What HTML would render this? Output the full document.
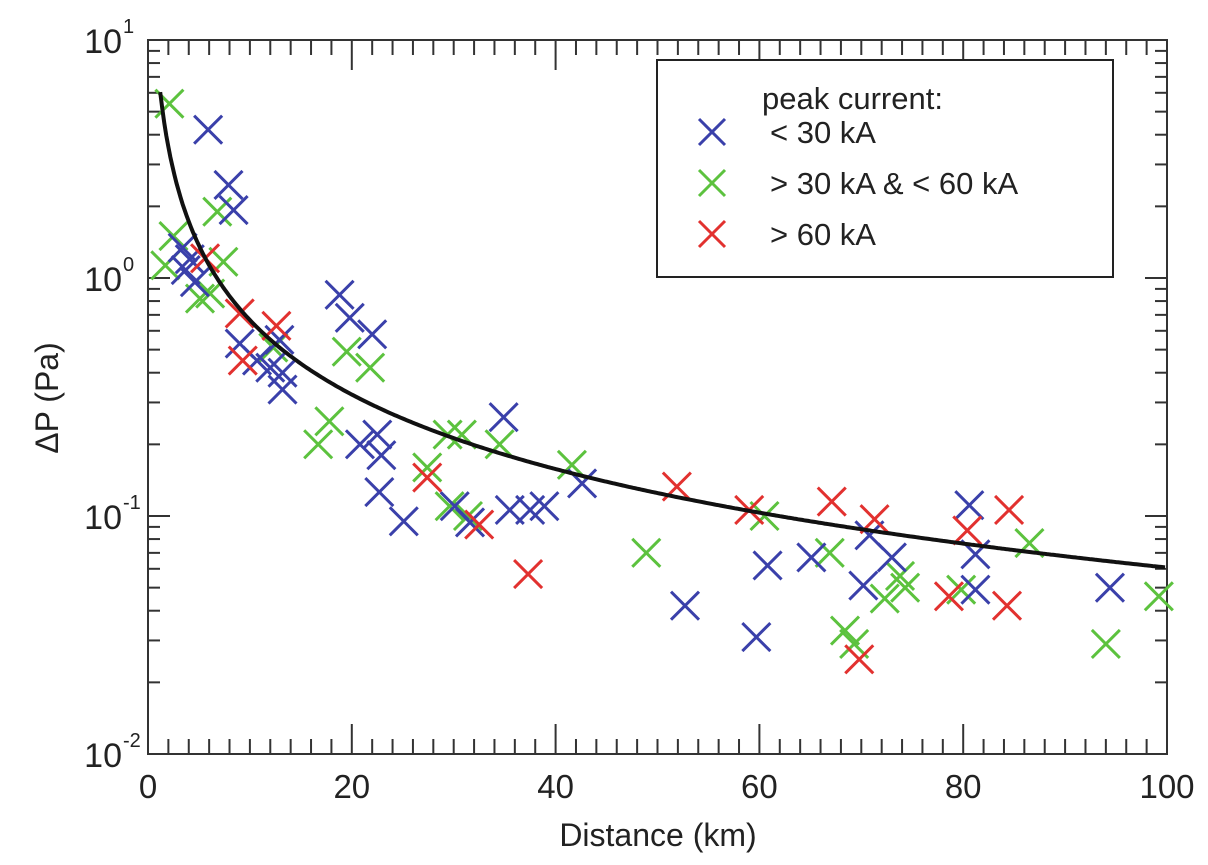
<!DOCTYPE html>
<html><head><meta charset="utf-8"><style>
body{margin:0;background:#fff}
svg{display:block}
text{font-family:"Liberation Sans",sans-serif;fill:#222}
</style></head><body>
<svg id="chart" width="1208" height="865" viewBox="0 0 1208 865"></svg>
<script>
const xTicks=[0,20,40,60,80,100];
const yExps=[-2,-1,0,1];
const blueX=[5.9,7.9,8.4,3.4,4.1,3.7,4.6,9.0,10.7,12.9,13.2,13.2,12.0,18.8,19.8,22,20.8,22.5,22.9,22.7,25.1,30.1,31.6,34.9,35.5,37.5,38.9,42.6,52.7,59.7,60.8,65.1,70.8,70.2,73,80.6,81.2,81.2,94.4];
const blueY=[4.2,2.46,1.93,1.34,1.2,1.08,0.96,0.53,0.45,0.55,0.40,0.34,0.42,0.85,0.68,0.58,0.2,0.22,0.18,0.126,0.095,0.11,0.094,0.26,0.106,0.106,0.11,0.137,0.042,0.031,0.062,0.067,0.083,0.051,0.067,0.111,0.069,0.049,0.05];
const greenX=[2.1,6.8,2.5,1.7,7.4,5.1,6.1,12.3,19.5,21.8,17.8,16.7,29.4,30.8,34.5,27.4,29.6,31.4,41.6,48.9,60.5,66.9,68.4,69.3,72.3,73.8,74.3,79.8,86.5,94,99.2];
const greenY=[5.4,1.9,1.5,1.13,1.17,0.82,0.86,0.51,0.49,0.42,0.25,0.2,0.22,0.22,0.2,0.16,0.11,0.1,0.164,0.07,0.1,0.07,0.033,0.029,0.045,0.056,0.05,0.049,0.077,0.029,0.046];
const redX=[5.6,9.0,12.6,9.3,27.4,32.5,37.3,51.9,59,67.1,71.3,69.8,78.6,80.4,84.3,84.5];
const redY=[1.21,0.71,0.63,0.45,0.145,0.092,0.057,0.133,0.106,0.115,0.097,0.025,0.046,0.087,0.042,0.106];
const fitA=7.3, fitB=1.04;

const L=148,R=1167,T=40,B=754;
const sx=v=>L+(v/100)*(R-L);
const sy=v=>B-(Math.log10(v)+2)/3*(B-T);
const svg=document.getElementById('chart');
const NS='http://www.w3.org/2000/svg';
function mk(tag,attrs,parent){const e=document.createElementNS(NS,tag);for(const k in attrs)e.setAttribute(k,attrs[k]);(parent||svg).appendChild(e);return e;}

const frame=mk('rect',{x:L,y:T,width:R-L,height:B-T,fill:'none',stroke:'#333','stroke-width':2});



const ticks=mk('g',{stroke:'#333','stroke-width':2});


for(let v=0;v<=100;v+=2){
  const len=(v%20===0)?30:15;const x=sx(v);
  mk('line',{x1:x,y1:B,x2:x,y2:B-len},ticks);
  mk('line',{x1:x,y1:T,x2:x,y2:T+len},ticks);
}
for(let e=-2;e<1;e++){for(let m=1;m<10;m++){
  const y=sy(m*Math.pow(10,e));const len=m===1?22:12;
  mk('line',{x1:L,y1:y,x2:L+len,y2:y},ticks);
  mk('line',{x1:R,y1:y,x2:R-len,y2:y},ticks);
}}
xTicks.forEach(v=>{
  const t=mk('text',{x:sx(v),y:798,'font-size':33,'text-anchor':'middle'});t.textContent=v;
  
  
});
yExps.forEach(e=>{
  const y=sy(Math.pow(10,e));
  const t=mk('text',{x:122,y:y+13,'font-size':34,'text-anchor':'end'});t.textContent='10';
  
  
  const s=mk('text',{x:123,y:y-7,'font-size':20,'text-anchor':'start'});s.textContent=String(e);
  
  
});
const xl=mk('text',{x:658,y:846,'font-size':32,'text-anchor':'middle'});xl.textContent='Distance (km)';


const yl=mk('text',{x:0,y:0,'font-size':32,'text-anchor':'middle',transform:'translate(58,398) rotate(-90)'});yl.textContent='ΔP (Pa)';



function cross(x,y,c,g,r){r=r||14;
  mk('line',{x1:x-r,y1:y-r,x2:x+r,y2:y+r,stroke:c,'stroke-width':3},g);
  mk('line',{x1:x-r,y1:y+r,x2:x+r,y2:y-r,stroke:c,'stroke-width':3},g);}
function series(xs,ys,c,name){
  const g=mk('g',{});
  
  
  xs.forEach((v,i)=>cross(sx(v),sy(ys[i]),c,g));
}
series(greenX,greenY,'#5cc23e','series-30-60ka');
series(blueX,blueY,'#3a40aa','series-lt-30ka');
series(redX,redY,'#e2312f','series-gt-60ka');

let d='';
for(let v=1.2;v<=100;v+=0.2){d+=(d?'L':'M')+sx(v).toFixed(1)+','+sy(fitA*Math.pow(v,-fitB)).toFixed(1);}
const fit=mk('path',{d:d,fill:'none',stroke:'#111','stroke-width':4});



const lg=mk('g',{});


mk('rect',{x:657,y:60,width:456,height:217,fill:'#fff',stroke:'#222','stroke-width':2},lg);
const lt=mk('text',{x:762,y:109,'font-size':31},lg);lt.textContent='peak current:';
const ent=[['#3a40aa','< 30 kA',143],['#5cc23e','> 30 kA & < 60 kA',194],['#e2312f','> 60 kA',245]];
ent.forEach(e=>{
  const g=mk('g',{},lg);
  
  
  cross(712,e[2]-11,e[0],g,13);
  const t=mk('text',{x:770,y:e[2],'font-size':31},g);t.textContent=e[1];
});
</script>
</body></html>
